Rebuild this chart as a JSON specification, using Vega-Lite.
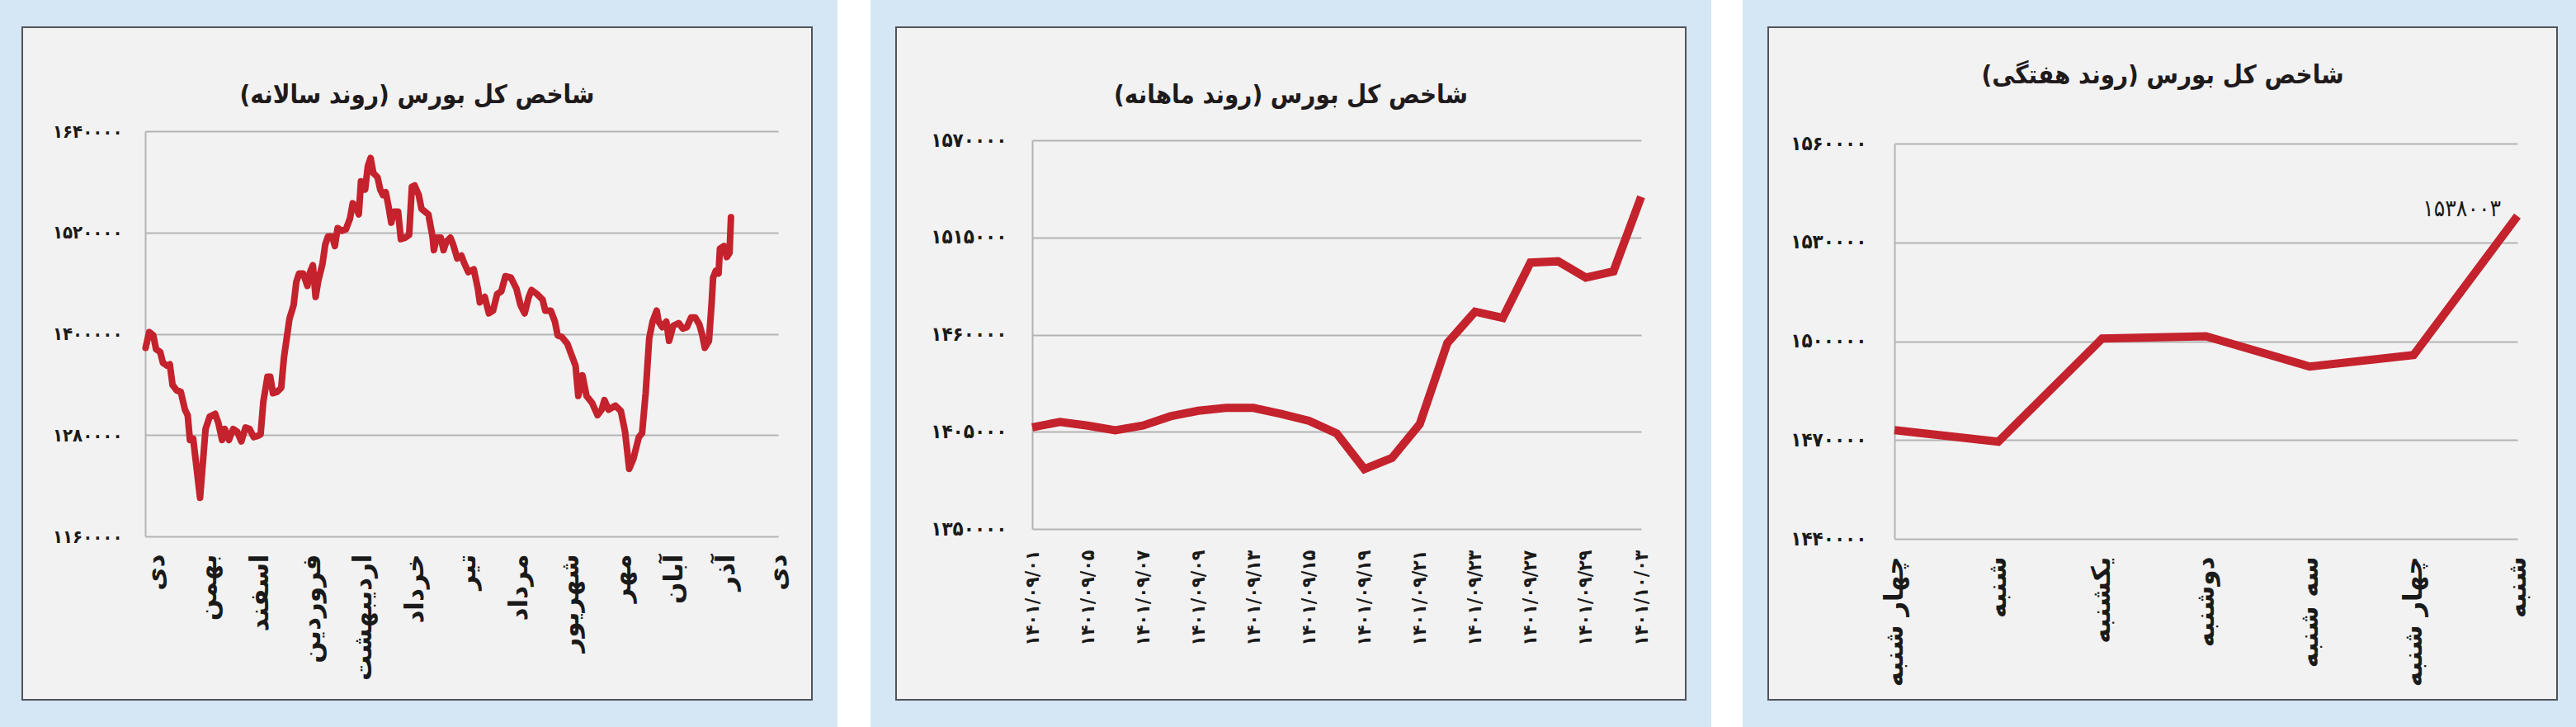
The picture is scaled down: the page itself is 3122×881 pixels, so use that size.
{
  "$schema": "https://vega.github.io/schema/vega-lite/v6.json",
  "background": "#d5e6f5",
  "padding": {"left": 26, "right": 24, "top": 0, "bottom": 0},
  "spacing": 31,
  "center": true,
  "bounds": "flush",
  "config": {
    "font": "DejaVu Sans",
    "axis": {"labelColor": "#1a1a1a", "title": null},
    "title": {"font": "DejaVu Sans Condensed", "fontWeight": "bold", "color": "#1f1b1c", "anchor": "middle"}
  },
  "hconcat": [
    {
      "width": 957, "height": 815,
      "view": {"fill": "#f2f2f2", "stroke": "#4f545a", "strokeWidth": 2},
      "title": {"text": "شاخص کل بورس (روند سالانه)‏", "offset": -99, "fontSize": 31},
      "data": {"values": [
        {"t": -0.212, "v": 1383400}, {"t": -0.143, "v": 1402000}, {"t": -0.064, "v": 1398100}, {"t": -0.011, "v": 1381800},
        {"t": 0.069, "v": 1378500}, {"t": 0.122, "v": 1365500}, {"t": 0.202, "v": 1362200}, {"t": 0.255, "v": 1363800},
        {"t": 0.308, "v": 1339400}, {"t": 0.388, "v": 1332900}, {"t": 0.467, "v": 1331200}, {"t": 0.547, "v": 1310100},
        {"t": 0.6, "v": 1303500}, {"t": 0.643, "v": 1274200}, {"t": 0.706, "v": 1275800}, {"t": 0.839, "v": 1205700},
        {"t": 0.945, "v": 1287200}, {"t": 1.025, "v": 1301900}, {"t": 1.131, "v": 1305200}, {"t": 1.195, "v": 1293800},
        {"t": 1.264, "v": 1274200}, {"t": 1.317, "v": 1287200}, {"t": 1.397, "v": 1274200}, {"t": 1.477, "v": 1287200},
        {"t": 1.556, "v": 1284000}, {"t": 1.636, "v": 1272600}, {"t": 1.716, "v": 1288900}, {"t": 1.795, "v": 1287200},
        {"t": 1.875, "v": 1277500}, {"t": 1.955, "v": 1279100}, {"t": 2.008, "v": 1280700}, {"t": 2.061, "v": 1319800},
        {"t": 2.141, "v": 1349200}, {"t": 2.194, "v": 1349200}, {"t": 2.247, "v": 1329600}, {"t": 2.326, "v": 1331200},
        {"t": 2.406, "v": 1336100}, {"t": 2.459, "v": 1372000}, {"t": 2.512, "v": 1394800}, {"t": 2.565, "v": 1417600},
        {"t": 2.645, "v": 1433900}, {"t": 2.698, "v": 1461600}, {"t": 2.751, "v": 1471400}, {"t": 2.831, "v": 1471400},
        {"t": 2.911, "v": 1456800}, {"t": 2.964, "v": 1473100}, {"t": 3.017, "v": 1481200}, {"t": 3.07, "v": 1443700},
        {"t": 3.123, "v": 1463300}, {"t": 3.203, "v": 1482800}, {"t": 3.256, "v": 1505700}, {"t": 3.309, "v": 1515400},
        {"t": 3.389, "v": 1515400}, {"t": 3.442, "v": 1504000}, {"t": 3.495, "v": 1525200}, {"t": 3.575, "v": 1522000},
        {"t": 3.654, "v": 1523600}, {"t": 3.734, "v": 1536600}, {"t": 3.787, "v": 1554600}, {"t": 3.84, "v": 1551300},
        {"t": 3.904, "v": 1541500}, {"t": 3.946, "v": 1580600}, {"t": 4.026, "v": 1570900}, {"t": 4.079, "v": 1598600},
        {"t": 4.132, "v": 1608300}, {"t": 4.185, "v": 1590400}, {"t": 4.265, "v": 1585500}, {"t": 4.318, "v": 1570900},
        {"t": 4.371, "v": 1564300}, {"t": 4.424, "v": 1567600}, {"t": 4.477, "v": 1551300}, {"t": 4.531, "v": 1531700},
        {"t": 4.584, "v": 1544800}, {"t": 4.663, "v": 1544800}, {"t": 4.716, "v": 1512200}, {"t": 4.796, "v": 1513800},
        {"t": 4.876, "v": 1517100}, {"t": 4.929, "v": 1574100}, {"t": 4.982, "v": 1575700}, {"t": 5.062, "v": 1564300},
        {"t": 5.115, "v": 1548000}, {"t": 5.248, "v": 1541500}, {"t": 5.327, "v": 1515400}, {"t": 5.354, "v": 1499100},
        {"t": 5.407, "v": 1513800}, {"t": 5.487, "v": 1513800}, {"t": 5.54, "v": 1499100}, {"t": 5.593, "v": 1508900},
        {"t": 5.672, "v": 1513800}, {"t": 5.726, "v": 1505700}, {"t": 5.805, "v": 1489400}, {"t": 5.885, "v": 1492600},
        {"t": 5.938, "v": 1484000}, {"t": 6.018, "v": 1473100}, {"t": 6.124, "v": 1476300}, {"t": 6.203, "v": 1453500},
        {"t": 6.241, "v": 1437200}, {"t": 6.336, "v": 1443700}, {"t": 6.416, "v": 1424200}, {"t": 6.496, "v": 1427400},
        {"t": 6.575, "v": 1447000}, {"t": 6.655, "v": 1450200}, {"t": 6.735, "v": 1468200}, {"t": 6.841, "v": 1466500},
        {"t": 6.947, "v": 1453500}, {"t": 7.027, "v": 1433900}, {"t": 7.106, "v": 1424200}, {"t": 7.186, "v": 1443700},
        {"t": 7.239, "v": 1451900}, {"t": 7.345, "v": 1447000}, {"t": 7.452, "v": 1440500}, {"t": 7.505, "v": 1427400},
        {"t": 7.611, "v": 1427400}, {"t": 7.691, "v": 1414400}, {"t": 7.744, "v": 1398100}, {"t": 7.823, "v": 1396400},
        {"t": 7.93, "v": 1388300}, {"t": 8.009, "v": 1375300}, {"t": 8.089, "v": 1362200}, {"t": 8.142, "v": 1326400},
        {"t": 8.222, "v": 1350800}, {"t": 8.301, "v": 1326400}, {"t": 8.408, "v": 1318200}, {"t": 8.514, "v": 1303500},
        {"t": 8.594, "v": 1310100}, {"t": 8.647, "v": 1321500}, {"t": 8.726, "v": 1310100}, {"t": 8.859, "v": 1314900},
        {"t": 8.965, "v": 1308400}, {"t": 9.045, "v": 1284000}, {"t": 9.125, "v": 1240000}, {"t": 9.204, "v": 1251400},
        {"t": 9.311, "v": 1277500}, {"t": 9.374, "v": 1282300}, {"t": 9.443, "v": 1329600}, {"t": 9.512, "v": 1394800},
        {"t": 9.576, "v": 1414400}, {"t": 9.656, "v": 1427400}, {"t": 9.693, "v": 1414400}, {"t": 9.762, "v": 1407900},
        {"t": 9.842, "v": 1414400}, {"t": 9.895, "v": 1391600}, {"t": 9.975, "v": 1409500}, {"t": 10.081, "v": 1412700},
        {"t": 10.161, "v": 1406200}, {"t": 10.24, "v": 1407900}, {"t": 10.32, "v": 1419300}, {"t": 10.4, "v": 1419300},
        {"t": 10.479, "v": 1411100}, {"t": 10.532, "v": 1399700}, {"t": 10.585, "v": 1383400}, {"t": 10.665, "v": 1391600},
        {"t": 10.718, "v": 1437200}, {"t": 10.745, "v": 1466500}, {"t": 10.798, "v": 1474700}, {"t": 10.851, "v": 1471400},
        {"t": 10.877, "v": 1500800}, {"t": 10.957, "v": 1504000}, {"t": 11.01, "v": 1491000}, {"t": 11.063, "v": 1495900},
        {"t": 11.09, "v": 1538003}
      ]},
      "mark": {"type": "line", "color": "#c4222c", "strokeWidth": 8, "strokeJoin": "round", "strokeCap": "round"},
      "encoding": {
        "x": {"field": "t", "type": "quantitative",
          "scale": {"domain": [-0.22, 12], "range": [149, 916], "nice": false, "zero": false},
          "axis": {"values": [0, 1, 2, 3, 4, 5, 6, 7, 8, 9, 10, 11, 12],
            "labelExpr": "['دی','بهمن','اسفند','فروردین','اردیبهشت','خرداد','تیر','مرداد','شهریور','مهر','آبان','آذر','دی'][datum.value]",
            "labelAngle": 270, "offset": -198, "domain": false, "ticks": false, "tickSize": 0, "grid": false,
            "labelPadding": 21, "labelFontSize": 31, "labelFontWeight": "bold", "labelFlush": false, "labelOverlap": false, "labelBound": false}},
        "y": {"field": "v", "type": "quantitative",
          "scale": {"domain": [1160000, 1640000], "range": [617, 126], "nice": false, "zero": false},
          "axis": {"values": [1160000, 1280000, 1400000, 1520000, 1640000],
            "labelExpr": "['۱۱۶۰۰۰۰','۱۲۸۰۰۰۰','۱۴۰۰۰۰۰','۱۵۲۰۰۰۰','۱۶۴۰۰۰۰'][round((datum.value-1160000)/120000)]",
            "offset": -149, "domain": true, "domainColor": "#b3b3b3", "domainWidth": 2, "ticks": false, "tickSize": 0,
            "grid": true, "gridColor": "#b3b3b3", "gridWidth": 2, "gridOpacity": 1,
            "labelPadding": 28, "labelFontSize": 22, "labelFontWeight": "bold", "labelFont": "DejaVu Sans Condensed", "labelFlush": false}}
      }
    },
    {
      "width": 40, "height": 881,
      "view": {"fill": "#ffffff", "stroke": null},
      "data": {"values": []},
      "mark": "point",
      "encoding": {}
    },
    {
      "width": 957, "height": 815,
      "view": {"fill": "#f2f2f2", "stroke": "#4f545a", "strokeWidth": 2},
      "title": {"text": "شاخص کل بورس (روند ماهانه)‏", "offset": -99, "fontSize": 31},
      "data": {"values": [
        {"i": 0, "d": "1401/09/01", "v": 1407500}, {"i": 1, "d": "1401/09/02", "v": 1410600},
        {"i": 2, "d": "1401/09/05", "v": 1408500}, {"i": 3, "d": "1401/09/06", "v": 1405900},
        {"i": 4, "d": "1401/09/07", "v": 1408500}, {"i": 5, "d": "1401/09/08", "v": 1413800},
        {"i": 6, "d": "1401/09/09", "v": 1416900}, {"i": 7, "d": "1401/09/12", "v": 1418500},
        {"i": 8, "d": "1401/09/13", "v": 1418500}, {"i": 9, "d": "1401/09/14", "v": 1415100},
        {"i": 10, "d": "1401/09/15", "v": 1411200}, {"i": 11, "d": "1401/09/16", "v": 1404100},
        {"i": 12, "d": "1401/09/19", "v": 1383900}, {"i": 13, "d": "1401/09/20", "v": 1390200},
        {"i": 14, "d": "1401/09/21", "v": 1409300}, {"i": 15, "d": "1401/09/22", "v": 1455300},
        {"i": 16, "d": "1401/09/23", "v": 1473000}, {"i": 17, "d": "1401/09/26", "v": 1469500},
        {"i": 18, "d": "1401/09/27", "v": 1500800}, {"i": 19, "d": "1401/09/28", "v": 1501500},
        {"i": 20, "d": "1401/09/29", "v": 1492300}, {"i": 21, "d": "1401/09/30", "v": 1495800},
        {"i": 22, "d": "1401/10/03", "v": 1538003}
      ]},
      "mark": {"type": "line", "color": "#c4222c", "strokeWidth": 10, "strokeJoin": "miter", "strokeCap": "butt"},
      "encoding": {
        "x": {"field": "i", "type": "quantitative",
          "scale": {"domain": [0, 22], "range": [165, 903], "nice": false, "zero": false},
          "axis": {"values": [0, 2, 4, 6, 8, 10, 12, 14, 16, 18, 20, 22],
            "labelExpr": "['۱۴۰۱/۰۹/۰۱','۱۴۰۱/۰۹/۰۵','۱۴۰۱/۰۹/۰۷','۱۴۰۱/۰۹/۰۹','۱۴۰۱/۰۹/۱۳','۱۴۰۱/۰۹/۱۵','۱۴۰۱/۰۹/۱۹','۱۴۰۱/۰۹/۲۱','۱۴۰۱/۰۹/۲۳','۱۴۰۱/۰۹/۲۷','۱۴۰۱/۰۹/۲۹','۱۴۰۱/۱۰/۰۳'][round(datum.value/2)]",
            "labelAngle": 270, "offset": -207, "domain": false, "ticks": false, "tickSize": 0, "grid": false,
            "labelPadding": 25, "labelFontSize": 23, "labelFontWeight": "bold", "labelFont": "DejaVu Sans Condensed", "labelFlush": false, "labelOverlap": false, "labelBound": false}},
        "y": {"field": "v", "type": "quantitative",
          "scale": {"domain": [1350000, 1570000], "range": [608, 137], "nice": false, "zero": false},
          "axis": {"values": [1350000, 1405000, 1460000, 1515000, 1570000],
            "labelExpr": "['۱۳۵۰۰۰۰','۱۴۰۵۰۰۰','۱۴۶۰۰۰۰','۱۵۱۵۰۰۰','۱۵۷۰۰۰۰'][round((datum.value-1350000)/55000)]",
            "offset": -165, "domain": true, "domainColor": "#b3b3b3", "domainWidth": 2, "ticks": false, "tickSize": 0,
            "grid": true, "gridColor": "#b3b3b3", "gridWidth": 2, "gridOpacity": 1,
            "labelPadding": 31, "labelFontSize": 24, "labelFontWeight": "bold", "labelFont": "DejaVu Sans Condensed", "labelFlush": false}}
      }
    },
    {
      "width": 38, "height": 881,
      "view": {"fill": "#ffffff", "stroke": null},
      "data": {"values": []},
      "mark": "point",
      "encoding": {}
    },
    {
      "width": 956, "height": 815,
      "view": {"fill": "#f2f2f2", "stroke": "#4f545a", "strokeWidth": 2},
      "title": {"text": "شاخص کل بورس (روند هفتگی)‏", "offset": -75, "fontSize": 31},
      "data": {"values": [
        {"i": 0, "day": "چهار شنبه", "v": 1473000},
        {"i": 1, "day": "شنبه", "v": 1469500},
        {"i": 2, "day": "یکشنبه", "v": 1500800},
        {"i": 3, "day": "دوشنبه", "v": 1501500},
        {"i": 4, "day": "سه شنبه", "v": 1492300},
        {"i": 5, "day": "چهار شنبه", "v": 1495800},
        {"i": 6, "day": "شنبه", "v": 1538003, "note": "۱۵۳۸۰۰۳"}
      ]},
      "encoding": {
        "x": {"field": "i", "type": "quantitative",
          "scale": {"domain": [0, 6], "range": [153, 908], "nice": false, "zero": false},
          "axis": {"values": [0, 1, 2, 3, 4, 5, 6],
            "labelExpr": "['چهار شنبه','شنبه','یکشنبه','دوشنبه','سه شنبه','چهار شنبه','شنبه'][datum.value]",
            "labelAngle": 270, "offset": -195, "domain": false, "ticks": false, "tickSize": 0, "grid": false,
            "labelPadding": 21, "labelFontSize": 31, "labelFontWeight": "bold", "labelFlush": false, "labelOverlap": false, "labelBound": false}},
        "y": {"field": "v", "type": "quantitative",
          "scale": {"domain": [1440000, 1560000], "range": [620, 141], "nice": false, "zero": false},
          "axis": {"values": [1440000, 1470000, 1500000, 1530000, 1560000],
            "labelExpr": "['۱۴۴۰۰۰۰','۱۴۷۰۰۰۰','۱۵۰۰۰۰۰','۱۵۳۰۰۰۰','۱۵۶۰۰۰۰'][round((datum.value-1440000)/30000)]",
            "offset": -153, "domain": true, "domainColor": "#b3b3b3", "domainWidth": 2, "ticks": false, "tickSize": 0,
            "grid": true, "gridColor": "#b3b3b3", "gridWidth": 2, "gridOpacity": 1,
            "labelPadding": 34, "labelFontSize": 24, "labelFontWeight": "bold", "labelFont": "DejaVu Sans Condensed", "labelFlush": false}}
      },
      "layer": [
        {"mark": {"type": "line", "color": "#c4222c", "strokeWidth": 10, "strokeJoin": "miter", "strokeCap": "butt"}},
        {"transform": [{"filter": "datum.note"}],
         "mark": {"type": "text", "align": "right", "baseline": "alphabetic", "dx": -20, "dy": 0, "fontSize": 28, "font": "DejaVu Sans Condensed", "color": "#1a1a1a"},
         "encoding": {"text": {"field": "note"}}}
      ]
    }
  ]
}
